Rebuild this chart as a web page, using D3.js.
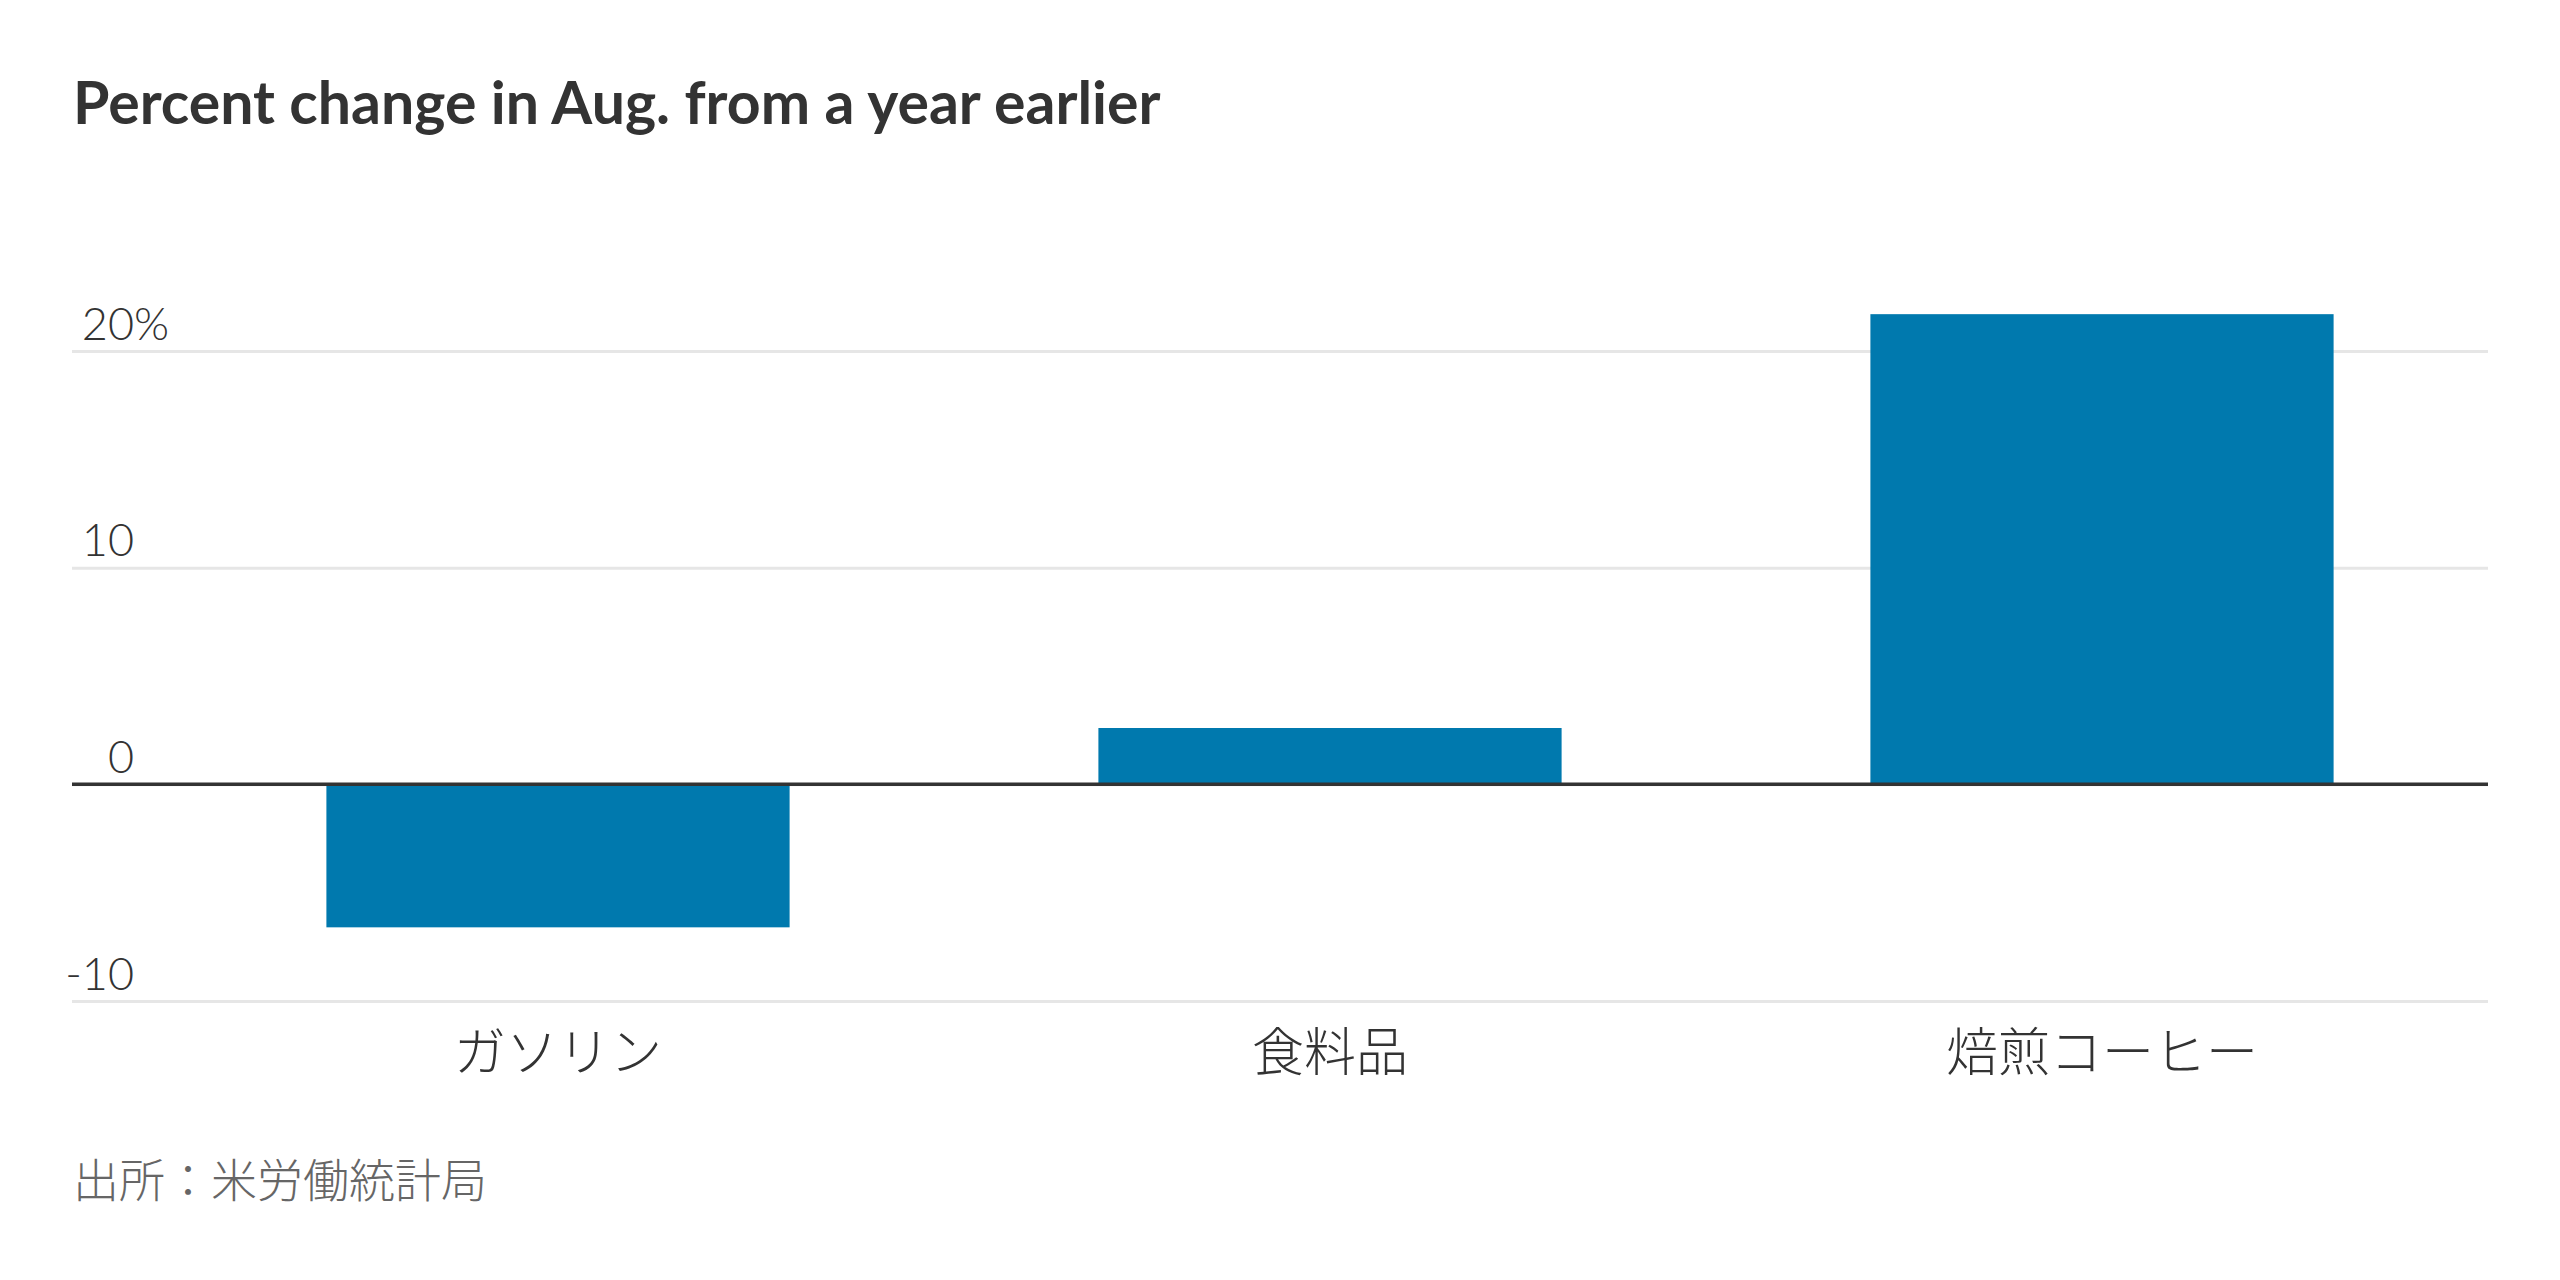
<!DOCTYPE html>
<html>
<head>
<meta charset="utf-8">
<script src="https://cdn.jsdelivr.net/npm/d3@7"></script>
<style>
  body { margin: 0; background: #fff; }
  svg { display: block; }
</style>
</head>
<body>
<div id="wrapper"></div>
<script>
const categories = ["ガソリン", "食料品", "焙煎コーヒー"];
const values = [-6.6, 2.6, 21.7];
const yTicks = [-10, 0, 10, 20];
const titleText = "Percent change in Aug. from a year earlier";
const sourceText = "出所：米労働統計局";

const jpFont = "'Noto Sans CJK JP', 'Noto Sans', sans-serif";
const numFont = "Lato, 'Open Sans', sans-serif";

let dimension = {
    width: 2560,
    height: 1280,
    gridLeft: 72,
    gridRight: 2488,
    top: 351,
    bottom: 1001
};

const wrapper = d3.select("#wrapper")
    .append("svg")
    .attr("width", dimension.width)
    .attr("height", dimension.height);

// title
wrapper.append("text")
    .attr("x", 73)
    .attr("y", 124)
    .text(titleText)
    .attr("fill", "#333")
    .attr("font-family", numFont)
    .attr("font-weight", 700)
    .attr("font-size", "59px");

const yScaler = d3.scaleLinear()
    .domain([-10, 20])
    .range([dimension.bottom, dimension.top]);

const xScaler = d3.scaleBand()
    .domain(categories)
    .range([172, dimension.gridRight])
    .paddingInner(0.4)
    .paddingOuter(0.2);

// y axis + gridlines
const yAxisGen = d3.axisLeft(yScaler)
    .tickValues(yTicks)
    .tickSize(-(dimension.gridRight - dimension.gridLeft))
    .tickFormat(d => d);

const yAxis = wrapper.append("g")
    .attr("transform", `translate(${dimension.gridLeft},0)`)
    .call(yAxisGen);

yAxis.select(".domain").remove();
yAxis.selectAll(".tick line")
    .attr("stroke", "#e6e6e6")
    .attr("stroke-width", 3);
yAxis.selectAll(".tick text")
    .attr("x", 62)
    .attr("dy", -12)
    .attr("text-anchor", "end")
    .attr("fill", "#333")
    .attr("font-family", numFont)
    .attr("font-weight", 300)
    .attr("font-size", "45px");

// percent sign hangs after the top label
yAxis.selectAll(".tick")
    .filter(d => d === d3.max(yTicks))
    .append("text")
    .attr("x", 62)
    .attr("dy", -12)
    .attr("text-anchor", "start")
    .attr("fill", "#333")
    .attr("font-family", numFont)
    .attr("font-weight", 300)
    .attr("font-size", "45px")
    .text("%");

// bars
wrapper.append("g")
    .selectAll("rect")
    .data(values)
    .enter()
    .append("rect")
    .attr("x", (d, i) => xScaler(categories[i]))
    .attr("y", d => yScaler(Math.max(0, d)))
    .attr("width", xScaler.bandwidth())
    .attr("height", d => Math.abs(yScaler(d) - yScaler(0)))
    .attr("fill", "#0079ae");

// zero line
wrapper.append("line")
    .attr("x1", dimension.gridLeft)
    .attr("x2", dimension.gridRight)
    .attr("y1", yScaler(0))
    .attr("y2", yScaler(0))
    .attr("stroke", "#333")
    .attr("stroke-width", 3.5);

// category labels
const xAxis = wrapper.append("g")
    .attr("transform", `translate(0,${dimension.bottom})`)
    .call(d3.axisBottom(xScaler).tickSize(0));

xAxis.select(".domain").remove();
xAxis.selectAll(".tick text")
    .attr("y", 70)
    .attr("dy", null)
    .attr("fill", "#333")
    .attr("font-family", jpFont)
    .attr("font-weight", 300)
    .attr("font-size", "52px");

// source
wrapper.append("text")
    .attr("x", 73)
    .attr("y", 1197)
    .text(sourceText)
    .attr("fill", "#666")
    .attr("font-family", jpFont)
    .attr("font-weight", 300)
    .attr("font-size", "46px");
</script>
</body>
</html>
